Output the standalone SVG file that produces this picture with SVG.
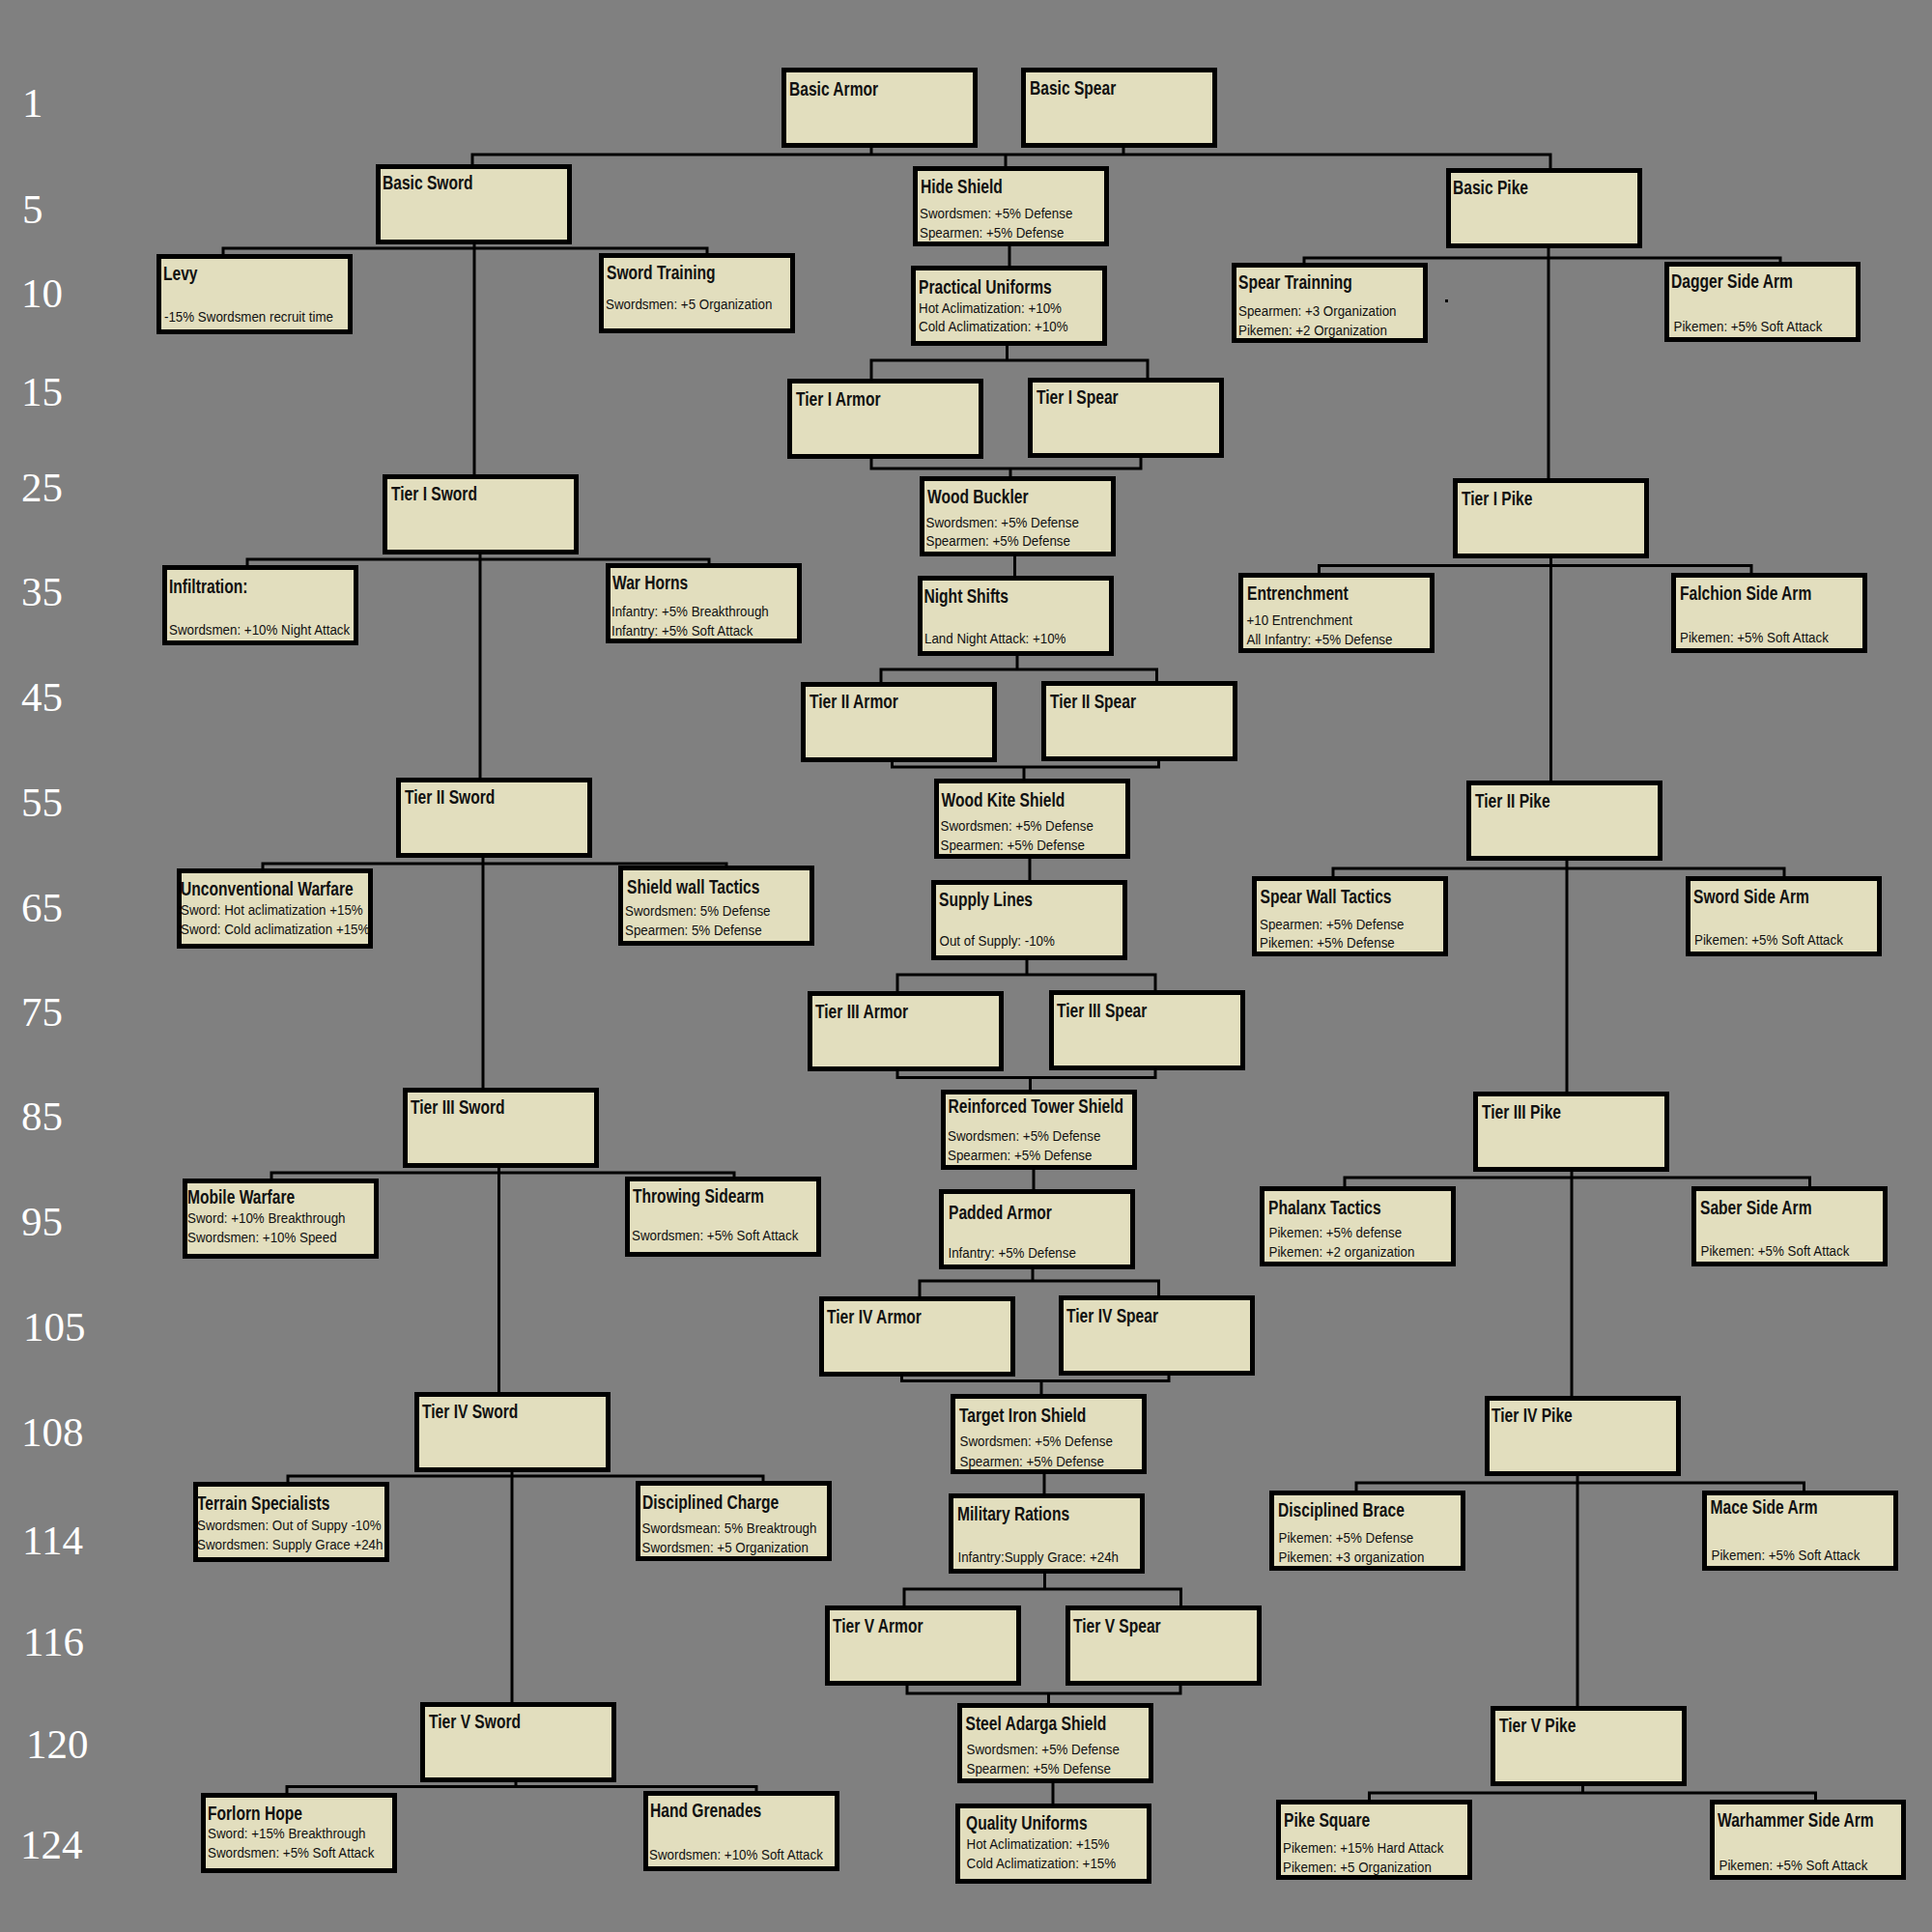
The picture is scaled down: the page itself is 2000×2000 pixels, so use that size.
<svg xmlns="http://www.w3.org/2000/svg" width="2000" height="2000" viewBox="0 0 2000 2000">
<style>
.bx{fill:#E2DEBE;stroke:#000;stroke-width:5}
.t{font-family:"Liberation Sans",Arial,sans-serif;font-weight:bold;font-size:20px;fill:#111}
.b{font-family:"Liberation Sans",Arial,sans-serif;font-size:15px;fill:#111}
.n{font-family:"Liberation Serif","Times New Roman",serif;font-size:43px;fill:#fff}
#connectors path{stroke:#000;stroke-width:3;fill:none}
</style>
<rect x="0" y="0" width="2000" height="2000" fill="#808080"/>
<g id="row-labels">
<text class="n" x="23" y="121">1</text>
<text class="n" x="23" y="231">5</text>
<text class="n" x="22" y="318">10</text>
<text class="n" x="22" y="420">15</text>
<text class="n" x="22" y="519">25</text>
<text class="n" x="22" y="627">35</text>
<text class="n" x="22" y="736">45</text>
<text class="n" x="22" y="845">55</text>
<text class="n" x="22" y="954">65</text>
<text class="n" x="22" y="1062">75</text>
<text class="n" x="22" y="1170">85</text>
<text class="n" x="22" y="1279">95</text>
<text class="n" x="24" y="1388">105</text>
<text class="n" x="22" y="1497">108</text>
<text class="n" x="23" y="1609">114</text>
<text class="n" x="24" y="1714">116</text>
<text class="n" x="27" y="1820">120</text>
<text class="n" x="21" y="1924">124</text>
</g>
<g id="connectors">
<path d="M489,170 V160 H1605 V174"/>
<path d="M902,152 V160"/>
<path d="M1163,152 V160"/>
<path d="M1041,160 V172"/>
<path d="M231,263 V257 H732 V262"/><path d="M491,253 V491"/>
<path d="M256,585 V579 H734 V583"/><path d="M497,573 V805"/>
<path d="M272,899 V894 H752 V896"/><path d="M500,887 V1126"/>
<path d="M281,1220 V1214 H760 V1218"/><path d="M516.5,1208 V1441"/>
<path d="M298,1534 V1528 H790 V1533"/><path d="M530,1523 V1762"/>
<path d="M297,1856 V1849.5 H783 V1854"/><path d="M534,1844 V1849.5"/>
<path d="M1045,254 V275"/>
<path d="M1042.5,358 V373"/><path d="M902,392 V373 H1188 V391"/>
<path d="M902,474 V485 H1181 V473"/><path d="M1046,485 V493"/>
<path d="M1050.5,575 V596"/>
<path d="M1053,678 V693"/><path d="M912,706 V693 H1197.5 V705"/>
<path d="M923.5,787 V794 H1199.5 V787"/><path d="M1060,794 V806"/>
<path d="M1066,889 V911"/>
<path d="M1063,993 V1009"/><path d="M929,1026 V1009 H1196 V1025"/>
<path d="M929,1109 V1115.5 H1196 V1108"/><path d="M1066.5,1115.5 V1128"/>
<path d="M1070,1210 V1231"/>
<path d="M1069,1314 V1326"/><path d="M952,1342 V1326 H1199.5 V1341"/>
<path d="M933.5,1424 V1429.5 H1210 V1423"/><path d="M1078,1429.5 V1443"/>
<path d="M1081,1525 V1546"/>
<path d="M1081.5,1629 V1645"/><path d="M936,1662 V1645 H1222.5 V1662"/>
<path d="M939,1745 V1753 H1222 V1744"/><path d="M1085.5,1753 V1763"/>
<path d="M1090,1846 V1867"/>
<path d="M1350,272 V267 H1843 V271"/><path d="M1603,256 V495"/>
<path d="M1365.5,593 V585.5 H1813 V593"/><path d="M1605.5,577 V808"/>
<path d="M1380,907 V899 H1847 V907"/><path d="M1622,891 V1130"/>
<path d="M1392,1228 V1219 H1873.5 V1228"/><path d="M1627,1211 V1445"/>
<path d="M1404,1543 V1535 H1867.5 V1543"/><path d="M1633,1527 V1766"/>
<path d="M1417.5,1863 V1856 H1879.5 V1863"/><path d="M1638.5,1848 V1856"/>
</g>
<rect id="stray-dot" x="1496" y="310" width="3" height="3" fill="#000"/>

<g id="basic-sword" transform="translate(389,170)"><rect class="bx" x="2.5" y="2.5" width="198" height="78"/><text class="t" transform="translate(7,26) scale(.78,1)">Basic Sword</text></g>
<g id="levy" transform="translate(162,263)"><rect class="bx" x="2.5" y="2.5" width="198" height="78"/><text class="t" transform="translate(7,27) scale(.78,1)">Levy</text><text class="b" transform="translate(8,70) scale(.89,1)">-15% Swordsmen recruit time</text></g>
<g id="sword-training" transform="translate(620,262)"><rect class="bx" x="2.5" y="2.5" width="198" height="78"/><text class="t" transform="translate(8,27) scale(.78,1)">Sword Training</text><text class="b" transform="translate(7,58) scale(.89,1)">Swordsmen: +5 Organization</text></g>
<g id="tier1-sword" transform="translate(396,491)"><rect class="bx" x="2.5" y="2.5" width="198" height="78"/><text class="t" transform="translate(9,27) scale(.78,1)">Tier I Sword</text></g>
<g id="infiltration" transform="translate(168,585)"><rect class="bx" x="2.5" y="2.5" width="198" height="78"/><text class="t" transform="translate(7,29) scale(.78,1)">Infiltration:</text><text class="b" transform="translate(7,72) scale(.89,1)">Swordsmen: +10% Night Attack</text></g>
<g id="war-horns" transform="translate(627,583)"><rect class="bx" x="2.5" y="2.5" width="198" height="78"/><text class="t" transform="translate(7,27) scale(.78,1)">War Horns</text><text class="b" transform="translate(6,55) scale(.89,1)">Infantry: +5% Breakthrough</text><text class="b" transform="translate(6,75) scale(.89,1)">Infantry: +5% Soft Attack</text></g>
<g id="tier2-sword" transform="translate(410,805)"><rect class="bx" x="2.5" y="2.5" width="198" height="78"/><text class="t" transform="translate(9,27) scale(.78,1)">Tier II Sword</text></g>
<g id="unconventional-warfare" transform="translate(183,899)"><rect class="bx" x="2.5" y="2.5" width="198" height="78"/><text class="t" transform="translate(4,28) scale(.78,1)">Unconventional Warfare</text><text class="b" transform="translate(4,48) scale(.89,1)">Sword: Hot aclimatization +15%</text><text class="b" transform="translate(4,68) scale(.89,1)">Sword: Cold aclimatization +15%</text></g>
<g id="shield-wall-tactics" transform="translate(640,896)"><rect class="bx" x="2.5" y="2.5" width="198" height="78"/><text class="t" transform="translate(9,28.5) scale(.78,1)">Shield wall Tactics</text><text class="b" transform="translate(7,52) scale(.89,1)">Swordsmen: 5% Defense</text><text class="b" transform="translate(7,72) scale(.89,1)">Spearmen: 5% Defense</text></g>
<g id="tier3-sword" transform="translate(417,1126)"><rect class="bx" x="2.5" y="2.5" width="198" height="78"/><text class="t" transform="translate(8,27) scale(.78,1)">Tier III Sword</text></g>
<g id="mobile-warfare" transform="translate(189,1220)"><rect class="bx" x="2.5" y="2.5" width="198" height="78"/><text class="t" transform="translate(5,26) scale(.78,1)">Mobile Warfare</text><text class="b" transform="translate(5,46) scale(.89,1)">Sword: +10% Breakthrough</text><text class="b" transform="translate(5,66) scale(.89,1)">Swordsmen: +10% Speed</text></g>
<g id="throwing-sidearm" transform="translate(647,1218)"><rect class="bx" x="2.5" y="2.5" width="198" height="78"/><text class="t" transform="translate(8,26.5) scale(.78,1)">Throwing Sidearm</text><text class="b" transform="translate(7,66) scale(.89,1)">Swordsmen: +5% Soft Attack</text></g>
<g id="tier4-sword" transform="translate(429,1441)"><rect class="bx" x="2.5" y="2.5" width="198" height="78"/><text class="t" transform="translate(8,27) scale(.78,1)">Tier IV Sword</text></g>
<g id="terrain-specialists" transform="translate(200,1534)"><rect class="bx" x="2.5" y="2.5" width="198" height="78"/><text class="t" transform="translate(4,29) scale(.78,1)">Terrain Specialists</text><text class="b" transform="translate(4,49.5) scale(.89,1)">Swordsmen: Out of Suppy -10%</text><text class="b" transform="translate(4,69.5) scale(.89,1)">Swordsmen: Supply Grace +24h</text></g>
<g id="disciplined-charge" transform="translate(658,1533)"><rect class="bx" x="2.5" y="2.5" width="198" height="78"/><text class="t" transform="translate(7,28.5) scale(.78,1)">Disciplined Charge</text><text class="b" transform="translate(6.5,54) scale(.89,1)">Swordsmean: 5% Breaktrough</text><text class="b" transform="translate(6.5,74) scale(.89,1)">Swordsmen: +5 Organization</text></g>
<g id="tier5-sword" transform="translate(435,1762)"><rect class="bx" x="2.5" y="2.5" width="198" height="78"/><text class="t" transform="translate(9,27) scale(.78,1)">Tier V Sword</text></g>
<g id="forlorn-hope" transform="translate(208,1856)"><rect class="bx" x="2.5" y="2.5" width="198" height="78"/><text class="t" transform="translate(7,27.5) scale(.78,1)">Forlorn Hope</text><text class="b" transform="translate(7,47) scale(.89,1)">Sword: +15% Breakthrough</text><text class="b" transform="translate(7,67) scale(.89,1)">Swordsmen: +5% Soft Attack</text></g>
<g id="hand-grenades" transform="translate(666,1854)"><rect class="bx" x="2.5" y="2.5" width="198" height="78"/><text class="t" transform="translate(7,26.5) scale(.78,1)">Hand Grenades</text><text class="b" transform="translate(6,71) scale(.89,1)">Swordsmen: +10% Soft Attack</text></g>

<g id="basic-armor" transform="translate(809,70)"><rect class="bx" x="2.5" y="2.5" width="198" height="78"/><text class="t" transform="translate(8,28.5) scale(.78,1)">Basic Armor</text></g>
<g id="basic-spear" transform="translate(1057,70)"><rect class="bx" x="2.5" y="2.5" width="198" height="78"/><text class="t" transform="translate(9,27.5) scale(.78,1)">Basic Spear</text></g>
<g id="hide-shield" transform="translate(945,172)"><rect class="bx" x="2.5" y="2.5" width="198" height="78"/><text class="t" transform="translate(8,27.5) scale(.78,1)">Hide Shield</text><text class="b" transform="translate(7,53.5) scale(.89,1)">Swordsmen: +5% Defense</text><text class="b" transform="translate(7,73.5) scale(.89,1)">Spearmen: +5% Defense</text></g>
<g id="practical-uniforms" transform="translate(943,275)"><rect class="bx" x="2.5" y="2.5" width="198" height="78"/><text class="t" transform="translate(8,28.5) scale(.78,1)">Practical Uniforms</text><text class="b" transform="translate(8,48.5) scale(.89,1)">Hot Aclimatization: +10%</text><text class="b" transform="translate(8,68) scale(.89,1)">Cold Aclimatization: +10%</text></g>
<g id="tier1-armor" transform="translate(815,392)"><rect class="bx" x="2.5" y="2.5" width="198" height="78"/><text class="t" transform="translate(9,27.5) scale(.78,1)">Tier I Armor</text></g>
<g id="tier1-spear" transform="translate(1064,391)"><rect class="bx" x="2.5" y="2.5" width="198" height="78"/><text class="t" transform="translate(9,27) scale(.78,1)">Tier I Spear</text></g>
<g id="wood-buckler" transform="translate(952,493)"><rect class="bx" x="2.5" y="2.5" width="198" height="78"/><text class="t" transform="translate(8,27.5) scale(.78,1)">Wood Buckler</text><text class="b" transform="translate(6.5,52.5) scale(.89,1)">Swordsmen: +5% Defense</text><text class="b" transform="translate(6.5,72) scale(.89,1)">Spearmen: +5% Defense</text></g>
<g id="night-shifts" transform="translate(950,596)"><rect class="bx" x="2.5" y="2.5" width="198" height="78"/><text class="t" transform="translate(6.5,27.5) scale(.78,1)">Night Shifts</text><text class="b" transform="translate(7,70) scale(.89,1)">Land Night Attack: +10%</text></g>
<g id="tier2-armor" transform="translate(829,706)"><rect class="bx" x="2.5" y="2.5" width="198" height="78"/><text class="t" transform="translate(9,27) scale(.78,1)">Tier II Armor</text></g>
<g id="tier2-spear" transform="translate(1078,705)"><rect class="bx" x="2.5" y="2.5" width="198" height="78"/><text class="t" transform="translate(9,27.5) scale(.78,1)">Tier II Spear</text></g>
<g id="wood-kite-shield" transform="translate(967,806)"><rect class="bx" x="2.5" y="2.5" width="198" height="78"/><text class="t" transform="translate(7.5,28.5) scale(.78,1)">Wood Kite Shield</text><text class="b" transform="translate(6.5,53.5) scale(.89,1)">Swordsmen: +5% Defense</text><text class="b" transform="translate(6.5,73.5) scale(.89,1)">Spearmen: +5% Defense</text></g>
<g id="supply-lines" transform="translate(964,911)"><rect class="bx" x="2.5" y="2.5" width="198" height="78"/><text class="t" transform="translate(8,27.3) scale(.78,1)">Supply Lines</text><text class="b" transform="translate(8.5,68) scale(.89,1)">Out of Supply: -10%</text></g>
<g id="tier3-armor" transform="translate(836,1026)"><rect class="bx" x="2.5" y="2.5" width="198" height="78"/><text class="t" transform="translate(8,28) scale(.78,1)">Tier III Armor</text></g>
<g id="tier3-spear" transform="translate(1086,1025)"><rect class="bx" x="2.5" y="2.5" width="198" height="78"/><text class="t" transform="translate(8,27.7) scale(.78,1)">Tier III Spear</text></g>
<g id="reinforced-tower-shield" transform="translate(974,1128)"><rect class="bx" x="2.5" y="2.5" width="198" height="78"/><text class="t" transform="translate(7.5,24) scale(.78,1)">Reinforced Tower Shield</text><text class="b" transform="translate(7,52.7) scale(.89,1)">Swordsmen: +5% Defense</text><text class="b" transform="translate(7,72.7) scale(.89,1)">Spearmen: +5% Defense</text></g>
<g id="padded-armor" transform="translate(972,1231)"><rect class="bx" x="2.5" y="2.5" width="198" height="78"/><text class="t" transform="translate(10,30.5) scale(.78,1)">Padded Armor</text><text class="b" transform="translate(9.5,70.8) scale(.89,1)">Infantry: +5% Defense</text></g>
<g id="tier4-armor" transform="translate(848,1342)"><rect class="bx" x="2.5" y="2.5" width="198" height="78"/><text class="t" transform="translate(8,27.5) scale(.78,1)">Tier IV Armor</text></g>
<g id="tier4-spear" transform="translate(1096,1341)"><rect class="bx" x="2.5" y="2.5" width="198" height="78"/><text class="t" transform="translate(8,27.7) scale(.78,1)">Tier IV Spear</text></g>
<g id="target-iron-shield" transform="translate(984,1443)"><rect class="bx" x="2.5" y="2.5" width="198" height="78"/><text class="t" transform="translate(9,29) scale(.78,1)">Target Iron Shield</text><text class="b" transform="translate(9.5,54.4) scale(.89,1)">Swordsmen: +5% Defense</text><text class="b" transform="translate(9.5,74.5) scale(.89,1)">Spearmen: +5% Defense</text></g>
<g id="military-rations" transform="translate(982,1546)"><rect class="bx" x="2.5" y="2.5" width="198" height="78"/><text class="t" transform="translate(9,28) scale(.78,1)">Military Rations</text><text class="b" transform="translate(9.5,70.6) scale(.89,1)">Infantry:Supply Grace: +24h</text></g>
<g id="tier5-armor" transform="translate(854,1662)"><rect class="bx" x="2.5" y="2.5" width="198" height="78"/><text class="t" transform="translate(8,27.5) scale(.78,1)">Tier V Armor</text></g>
<g id="tier5-spear" transform="translate(1103,1662)"><rect class="bx" x="2.5" y="2.5" width="198" height="78"/><text class="t" transform="translate(8,27.7) scale(.78,1)">Tier V Spear</text></g>
<g id="steel-adarga-shield" transform="translate(991,1763)"><rect class="bx" x="2.5" y="2.5" width="198" height="78"/><text class="t" transform="translate(8.5,28) scale(.78,1)">Steel Adarga Shield</text><text class="b" transform="translate(9.5,53) scale(.89,1)">Swordsmen: +5% Defense</text><text class="b" transform="translate(9.5,73) scale(.89,1)">Spearmen: +5% Defense</text></g>
<g id="quality-uniforms" transform="translate(989,1867)"><rect class="bx" x="2.5" y="2.5" width="198" height="78"/><text class="t" transform="translate(11,27) scale(.78,1)">Quality Uniforms</text><text class="b" transform="translate(11.5,47) scale(.89,1)">Hot Aclimatization: +15%</text><text class="b" transform="translate(11.5,66.6) scale(.89,1)">Cold Aclimatization: +15%</text></g>

<g id="basic-pike" transform="translate(1497,174)"><rect class="bx" x="2.5" y="2.5" width="198" height="78"/><text class="t" transform="translate(7,27) scale(.78,1)">Basic Pike</text></g>
<g id="spear-trainning" transform="translate(1275,272)"><rect class="bx" x="2.5" y="2.5" width="198" height="78"/><text class="t" transform="translate(7,27.4) scale(.78,1)">Spear Trainning</text><text class="b" transform="translate(7,54.6) scale(.89,1)">Spearmen: +3 Organization</text><text class="b" transform="translate(7,74.5) scale(.89,1)">Pikemen: +2 Organization</text></g>
<g id="dagger-side-arm" transform="translate(1723,271)"><rect class="bx" x="2.5" y="2.5" width="198" height="78"/><text class="t" transform="translate(7,27) scale(.78,1)">Dagger Side Arm</text><text class="b" transform="translate(9.5,72) scale(.89,1)">Pikemen: +5% Soft Attack</text></g>
<g id="tier1-pike" transform="translate(1504,495)"><rect class="bx" x="2.5" y="2.5" width="198" height="78"/><text class="t" transform="translate(9,27.5) scale(.78,1)">Tier I Pike</text></g>
<g id="entrenchment" transform="translate(1282,593)"><rect class="bx" x="2.5" y="2.5" width="198" height="78"/><text class="t" transform="translate(9,28.4) scale(.78,1)">Entrenchment</text><text class="b" transform="translate(8.5,54.3) scale(.89,1)">+10 Entrenchment</text><text class="b" transform="translate(8.5,74.4) scale(.89,1)">All Infantry: +5% Defense</text></g>
<g id="falchion-side-arm" transform="translate(1730,593)"><rect class="bx" x="2.5" y="2.5" width="198" height="78"/><text class="t" transform="translate(9,27.5) scale(.78,1)">Falchion Side Arm</text><text class="b" transform="translate(9,72) scale(.89,1)">Pikemen: +5% Soft Attack</text></g>
<g id="tier2-pike" transform="translate(1518,808)"><rect class="bx" x="2.5" y="2.5" width="198" height="78"/><text class="t" transform="translate(9,28) scale(.78,1)">Tier II Pike</text></g>
<g id="spear-wall-tactics" transform="translate(1296,907)"><rect class="bx" x="2.5" y="2.5" width="198" height="78"/><text class="t" transform="translate(8.5,27.7) scale(.78,1)">Spear Wall Tactics</text><text class="b" transform="translate(8,54.5) scale(.89,1)">Spearmen: +5% Defense</text><text class="b" transform="translate(8,74) scale(.89,1)">Pikemen: +5% Defense</text></g>
<g id="sword-side-arm" transform="translate(1745,907)"><rect class="bx" x="2.5" y="2.5" width="198" height="78"/><text class="t" transform="translate(8,27.7) scale(.78,1)">Sword Side Arm</text><text class="b" transform="translate(9,71.4) scale(.89,1)">Pikemen: +5% Soft Attack</text></g>
<g id="tier3-pike" transform="translate(1525,1130)"><rect class="bx" x="2.5" y="2.5" width="198" height="78"/><text class="t" transform="translate(9,27.6) scale(.78,1)">Tier III Pike</text></g>
<g id="phalanx-tactics" transform="translate(1304,1228)"><rect class="bx" x="2.5" y="2.5" width="198" height="78"/><text class="t" transform="translate(9,28.5) scale(.78,1)">Phalanx Tactics</text><text class="b" transform="translate(9.5,53) scale(.89,1)">Pikemen: +5% defense</text><text class="b" transform="translate(9.5,73) scale(.89,1)">Pikemen: +2 organization</text></g>
<g id="saber-side-arm" transform="translate(1751,1228)"><rect class="bx" x="2.5" y="2.5" width="198" height="78"/><text class="t" transform="translate(9,28.5) scale(.78,1)">Saber Side Arm</text><text class="b" transform="translate(9.5,72.3) scale(.89,1)">Pikemen: +5% Soft Attack</text></g>
<g id="tier4-pike" transform="translate(1537,1445)"><rect class="bx" x="2.5" y="2.5" width="198" height="78"/><text class="t" transform="translate(7,27) scale(.78,1)">Tier IV Pike</text></g>
<g id="disciplined-brace" transform="translate(1314,1543)"><rect class="bx" x="2.5" y="2.5" width="198" height="78"/><text class="t" transform="translate(9,27) scale(.78,1)">Disciplined Brace</text><text class="b" transform="translate(9.5,54) scale(.89,1)">Pikemen: +5% Defense</text><text class="b" transform="translate(9.5,74) scale(.89,1)">Pikemen: +3 organization</text></g>
<g id="mace-side-arm" transform="translate(1762,1543)"><rect class="bx" x="2.5" y="2.5" width="198" height="78"/><text class="t" transform="translate(8.5,24) scale(.78,1)">Mace Side Arm</text><text class="b" transform="translate(9.5,71.8) scale(.89,1)">Pikemen: +5% Soft Attack</text></g>
<g id="tier5-pike" transform="translate(1543,1766)"><rect class="bx" x="2.5" y="2.5" width="198" height="78"/><text class="t" transform="translate(9,26.8) scale(.78,1)">Tier V Pike</text></g>
<g id="pike-square" transform="translate(1321,1863)"><rect class="bx" x="2.5" y="2.5" width="198" height="78"/><text class="t" transform="translate(8,27.6) scale(.78,1)">Pike Square</text><text class="b" transform="translate(7,55) scale(.89,1)">Pikemen: +15% Hard Attack</text><text class="b" transform="translate(7,75.4) scale(.89,1)">Pikemen: +5 Organization</text></g>
<g id="warhammer-side-arm" transform="translate(1770,1863)"><rect class="bx" x="2.5" y="2.5" width="198" height="78"/><text class="t" transform="translate(8,27.6) scale(.78,1)">Warhammer Side Arm</text><text class="b" transform="translate(9.5,73) scale(.89,1)">Pikemen: +5% Soft Attack</text></g>
</svg>
